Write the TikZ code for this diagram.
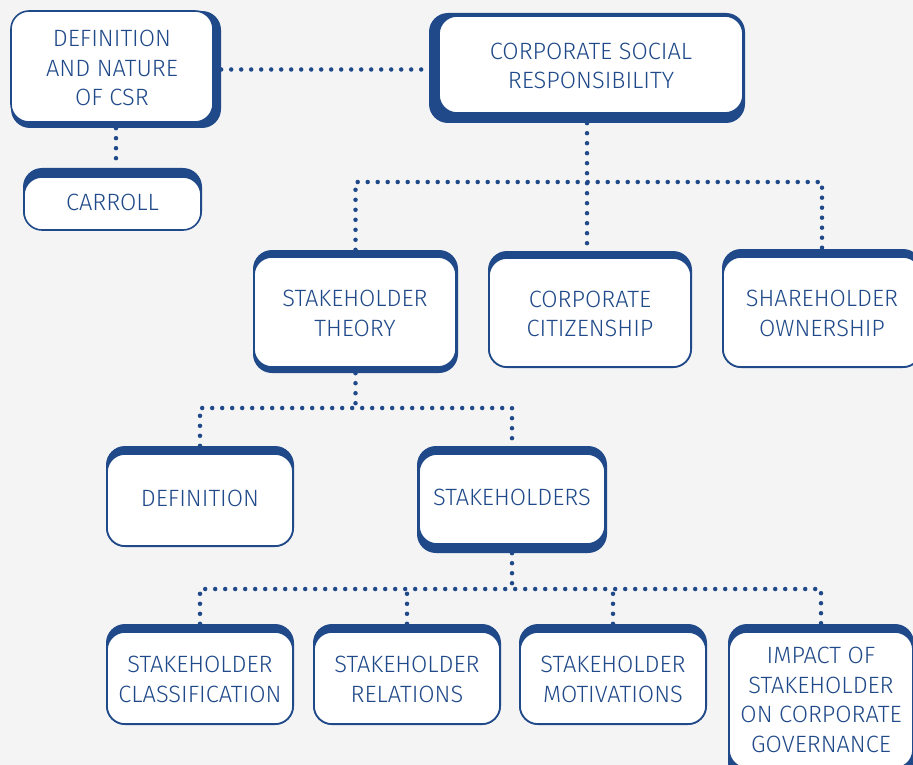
\documentclass[tikz,border=0pt]{standalone}
\usepackage{fontspec}
\setmainfont{Fira Sans Light}
\usetikzlibrary{fit}
\definecolor{csrblue}{RGB}{31,73,137}
\definecolor{pagebg}{RGB}{244,244,244}
\pgfdeclarelayer{back}
\pgfsetlayers{back,main}
\tikzset{
  outerbox/.style={fill=csrblue, draw=none, rounded corners=19pt, inner sep=0pt},
  innerbox/.style={fill=white, draw=csrblue, line width=1.6pt, rounded corners=18pt, inner sep=0pt},
  boxtext/.style={align=center, text=csrblue, inner sep=0pt, font=\fontsize{23.6}{29.5}\selectfont},
  dotline/.style={draw=csrblue, line width=4.5pt, line cap=round, dash pattern=on 0pt off 10pt},
}
\newcommand\mkbox[5][-1.5pt]{%
  \node[outerbox, fit={#3}] (#2-o) {};
  \node[innerbox, fit={#4}] (#2) {};
  \node[boxtext, yshift=#1] (#2-t) at (#2.center) {#5};}
\begin{document}
\begin{tikzpicture}[x=1pt,y=-1pt]
\useasboundingbox (0,0) rectangle (913,765);
\mkbox{def}{(11,11) (221,128)}{(11,11) (213,122)}{DEFINITION\\AND NATURE\\OF CSR}
\mkbox[1.5pt]{car}{(23,168) (202,230)}{(24,177) (201,230)}{CARROLL}
\mkbox{csr}{(429,13) (745,123)}{(439,16) (743,113)}{CORPORATE SOCIAL\\RESPONSIBILITY}
\mkbox{st}{(253,250) (458,373)}{(254,257) (456,367)}{STAKEHOLDER\\THEORY}
\mkbox{cc}{(488,251) (692,368)}{(489,258) (691,367)}{CORPORATE\\CITIZENSHIP}
\mkbox{sh}{(722,249) (922,368)}{(723,257) (921,367)}{SHAREHOLDER\\OWNERSHIP}
\mkbox[1.5pt]{defn}{(106,446) (294,547)}{(107,454) (293,546)}{DEFINITION}
\mkbox[1.5pt]{sts}{(417,446) (607,553)}{(419,454) (605,544)}{STAKEHOLDERS}
\mkbox{cls}{(106,624) (294,725)}{(107,632) (293,724)}{STAKEHOLDER\\CLASSIFICATION}
\mkbox{rel}{(313,624) (501,725)}{(314,632) (500,724)}{STAKEHOLDER\\RELATIONS}
\mkbox{mot}{(519,624) (707,725)}{(520,632) (706,724)}{STAKEHOLDER\\MOTIVATIONS}
\mkbox[0pt]{imp}{(728,624) (914,800)}{(729,632) (913,768)}{IMPACT OF\\STAKEHOLDER\\ON CORPORATE\\GOVERNANCE}
\coordinate (j1) at (587,182);
\coordinate (j2) at (355,408);
\coordinate (j3) at (511,589);
\begin{pgfonlayer}{back}
\fill[pagebg] (0,0) rectangle (913,765);
\draw[dotline] (def-o.east) -- (def-o.east -| csr-o.west);
\draw[dotline] (def-o.south) -- (def-o.south |- car-o.north);
\draw[dotline] (csr-o.south) -- (csr-o.south |- cc-o.north);
\draw[dotline] (st-o.north) -- (st-o.north |- j1) -- (sh-o.north |- j1) -- (sh-o.north);
\draw[dotline] (st-o.south) -- (st-o.south |- j2);
\draw[dotline] (defn-o.north) -- (defn-o.north |- j2) -- (sts-o.north |- j2) -- (sts-o.north);
\draw[dotline] (sts-o.south) -- (sts-o.south |- j3);
\draw[dotline] (cls-o.north) -- (cls-o.north |- j3) -- (imp-o.north |- j3) -- (imp-o.north);
\draw[dotline] (rel-o.north) -- (rel-o.north |- j3);
\draw[dotline] (mot-o.north) -- (mot-o.north |- j3);
\end{pgfonlayer}
\end{tikzpicture}
\end{document}
